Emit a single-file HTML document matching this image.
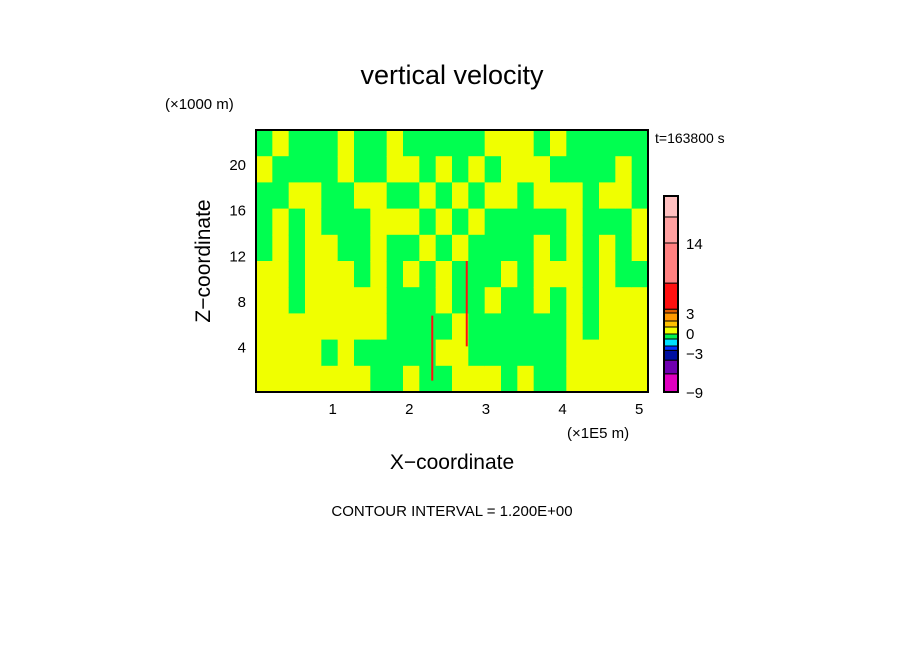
<!DOCTYPE html>
<html><head><meta charset="utf-8"><style>
body{margin:0;background:#fff;width:904px;height:654px;overflow:hidden}
svg text{font-family:"Liberation Sans",sans-serif;fill:#000}
</style></head><body>
<svg id="chart" width="904" height="654" xmlns="http://www.w3.org/2000/svg">
<text x="452" y="84" font-size="27" text-anchor="middle">vertical velocity</text>
<text x="165" y="109" font-size="15">(×1000 m)</text>
<text x="655" y="143" font-size="14">t=163800 s</text>
<text transform="translate(210,261) rotate(-90)" font-size="21" text-anchor="middle">Z−coordinate</text>
<text x="452" y="469" font-size="21" text-anchor="middle">X−coordinate</text>
<text x="567" y="438" font-size="15">(×1E5 m)</text>
<text x="452" y="516" font-size="15" text-anchor="middle">CONTOUR INTERVAL = 1.200E+00</text>
<g id="field"></g>
<g id="streaks"></g>
<rect x="256" y="130" width="392" height="262" fill="none" stroke="#000" stroke-width="2"/>
<g id="xticks"></g>
<g id="yticks"></g>
<g id="cbar"></g>
</svg>
<script>
const xTicks=[1,2,3,4,5];
const yTicks=[4,8,12,16,20];
// field grid columns left->right, each string top->bottom; G=green (slightly negative), Y=yellow (slightly positive)
const fieldCols=["GYGGGYYYYY","YGGYYYYYYY","GGYGGGGYYY","GGYYYYYYYY","GGGGYYYYGY","YYGGGYYYYY",
"GGYGGGYYGY","GGYYYYYYGG","YYGYGGGGGG","GYGYGYGGGY","GGYGYGGGGG","GYGYGYYGYG","GGYGYGGYYY",
"GYGYGGGGGY","YGYGGGYGGY","YYYGGYGGGG","YYGGGGGGGY","GYYGYYYGGG","YGYGGYGGGG","GGYYYYYYYY",
"GGGGGGGGYY","GGYGYYYYYY","GYYGGGYYYY","GGGYYGYYYY"];
const streakX=[2.75,2.3];
const streakZ0=[4,1];
const streakZ1=[11.5,6.7];
const cbLevels=[-9,-6.2,-4.1,-2.6,-1.95,-0.9,-0.15,0.9,1.8,3,3.6,7.7,14,18.1,21.4];
const cbColors=["#e000c0","#7000b0","#0010a0","#0030ff","#00e0ff","#00f050","#f0ff00","#ffc000","#ff9900","#e06000","#ff1010","#ff8080","#ffa0a0","#ffc0c0"];
const cbLabels=[-9,-3,0,3,14];
// colorbar scale knots (value -> pixel), nonlinear as in the original
const cbKnotV=[-9,-3,0,3,14,21.4];
const cbKnotP=[392,353,333,313,243,196];

const X0=256,X1=648,Y0=392,Y1=130,XMAX=5.115,ZMAX=23;
const sx=v=>X0+v/XMAX*(X1-X0), sz=v=>Y0-v/ZMAX*(Y0-Y1);
const NS="http://www.w3.org/2000/svg";
function mk(t,a,p){const e=document.createElementNS(NS,t);for(const k in a)e.setAttribute(k,a[k]);p.appendChild(e);return e;}
const field=document.getElementById('field');
const cw=(X1-X0)/fieldCols.length;
fieldCols.forEach((col,i)=>{const rh=(Y0-Y1)/col.length;[...col].forEach((c,j)=>{
 const r=mk('rect',{x:X0+i*cw,y:Y1+j*rh,width:cw+0.6,height:rh+0.6,fill:c==='G'?'#00ff50':'#f0ff00'},field);
 
 
});});
const st=document.getElementById('streaks');
streakX.forEach((x,i)=>{
 const l=mk('line',{x1:sx(x),x2:sx(x),y1:sz(streakZ0[i]),y2:sz(streakZ1[i]),stroke:'#ff1010','stroke-width':2},st);
 
 
});
const xt=document.getElementById('xticks');
xTicks.forEach(v=>{
 const t=mk('text',{x:sx(v),y:414,'font-size':15,'text-anchor':'middle'},xt);t.textContent=v;
 
 
});
const yt=document.getElementById('yticks');
yTicks.forEach(v=>{
 const t=mk('text',{x:246,y:sz(v)+6,'font-size':15,'text-anchor':'end'},yt);t.textContent=v;
 
 
});
const cb=document.getElementById('cbar');
function cy(v){
 for(let k=0;k<cbKnotV.length-1;k++){
  if(v<=cbKnotV[k+1]||k===cbKnotV.length-2){
   const f=(v-cbKnotV[k])/(cbKnotV[k+1]-cbKnotV[k]);
   return cbKnotP[k]+f*(cbKnotP[k+1]-cbKnotP[k]);
  }
 }
}
cbColors.forEach((c,i)=>{
 const r=mk('rect',{x:664,y:cy(cbLevels[i+1]),width:14,height:cy(cbLevels[i])-cy(cbLevels[i+1]),fill:c,stroke:'#000','stroke-width':1},cb);
 
 
});
mk('rect',{x:664,y:cy(cbLevels[cbLevels.length-1]),width:14,height:cy(cbLevels[0])-cy(cbLevels[cbLevels.length-1]),fill:'none',stroke:'#000','stroke-width':2},cb);
cbLabels.forEach(v=>{
 const t=mk('text',{x:686,y:cy(v)+6,'font-size':15},cb);t.textContent=String(v).replace('-','−');
 
 
});
</script>
</body></html>
